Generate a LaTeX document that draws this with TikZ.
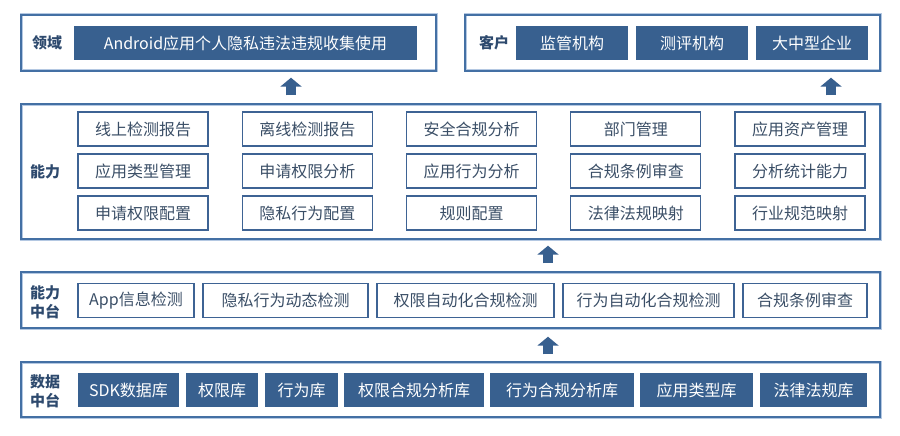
\documentclass[tikz,border=0pt]{standalone}
\usepackage{fontspec}
\setmainfont{Noto Sans CJK SC}
\usetikzlibrary{arrows.meta}

\definecolor{darkfill}{HTML}{38608F}
\definecolor{frameline}{HTML}{4470A4}
\definecolor{framehalo}{HTML}{B4C8E2}
\definecolor{boxline}{HTML}{3E6394}
\definecolor{labeltext}{HTML}{2E4A6E}
\definecolor{boxtext}{HTML}{3A4E66}

\tikzset{
  frame/.style={draw=frameline,line width=1.4pt,minimum width=859pt,
    preaction={draw=framehalo,line width=3pt}},
  layerlabel/.style={font=\fontsize{15}{19}\selectfont\bfseries,text=labeltext,align=center},
  darkbox/.style={fill=darkfill,text=white,minimum height=34pt,inner sep=0pt,
    font=\fontsize{16}{18}\selectfont},
  linebox/.style={draw=boxline,line width=1.1pt,text=boxtext,minimum height=34pt,inner sep=0pt,
    font=\fontsize{16}{18}\selectfont},
  uparrow/.style={line width=10pt,darkfill,-{Triangle[width=21pt,length=9pt]}}
}

\begin{document}
\begin{tikzpicture}[x=1pt,y=-1pt]
  \useasboundingbox (0,0) rectangle (900,436);

  % Domain
  \node[frame,minimum width=415pt,minimum height=56pt] (domain) at (228.5,43) {};
  \node[layerlabel] (domainlbl) at (47,43) {领域};
  \node[darkbox,minimum width=343pt] (android) at (245.5,43) {Android应用个人隐私违法违规收集使用};

  % Customers
  \node[frame,minimum width=415pt,minimum height=56pt] (customer) at (672.5,43) {};
  \node[layerlabel] (customerlbl) at (494,43) {客户};
  \node[darkbox,minimum width=112pt] (regulator) at (572,43) {监管机构};
  \node[darkbox,minimum width=112pt] (tester) at (692,43) {测评机构};
  \node[darkbox,minimum width=112pt] (enterprise) at (812,43) {大中型企业};

  % Capabilities
  \node[frame,minimum height=135pt] (cap) at (450.5,171.5) {};
  \node[layerlabel] (caplbl) at (45,172) {能力};
  \foreach \txt [count=\i from 0] in {线上检测报告,离线检测报告,安全合规分析,部门管理,应用资产管理}
    \node[linebox,minimum width=130pt] (capa\i) at (143+164.25*\i,129) {\txt};
  \foreach \txt [count=\i from 0] in {应用类型管理,申请权限分析,应用行为分析,合规条例审查,分析统计能力}
    \node[linebox,minimum width=130pt] (capb\i) at (143+164.25*\i,171) {\txt};
  \foreach \txt [count=\i from 0] in {申请权限配置,隐私行为配置,规则配置,法律法规映射,行业规范映射}
    \node[linebox,minimum width=130pt] (capc\i) at (143+164.25*\i,213) {\txt};

  % Capability middle platform
  \node[frame,minimum height=56pt] (mid) at (450.5,300) {};
  \node[layerlabel] (midlbl) at (45,302) {能力\\中台};
  \node[linebox,minimum width=116pt] (appinfo) at (136,300.5) {App信息检测};
  \node[linebox,minimum width=165pt] (dynamic) at (285.5,300.5) {隐私行为动态检测};
  \node[linebox,minimum width=177pt] (permauto) at (465.5,300.5) {权限自动化合规检测};
  \node[linebox,minimum width=171pt] (behavauto) at (648.5,300.5) {行为自动化合规检测};
  \node[linebox,minimum width=124pt] (review) at (805,300.5) {合规条例审查};

  % Data middle platform
  \node[frame,minimum height=55pt] (data) at (450.5,389.5) {};
  \node[layerlabel] (datalbl) at (45,391) {数据\\中台};
  \node[darkbox,minimum width=101pt] (sdkdb) at (128.5,390) {SDK数据库};
  \node[darkbox,minimum width=72pt] (permdb) at (222,390) {权限库};
  \node[darkbox,minimum width=73pt] (behavdb) at (301.5,390) {行为库};
  \node[darkbox,minimum width=140pt] (permcomp) at (414,390) {权限合规分析库};
  \node[darkbox,minimum width=144pt] (behavcomp) at (562,390) {行为合规分析库};
  \node[darkbox,minimum width=113pt] (typedb) at (696.5,390) {应用类型库};
  \node[darkbox,minimum width=107pt] (lawdb) at (813.5,390) {法律法规库};

  % Layer arrows
  \draw[uparrow,shorten <=8pt,shorten >=6pt] ([xshift=-159.5pt]cap.north) -- ([xshift=62.5pt]domain.south);
  \draw[uparrow,shorten <=8pt,shorten >=6pt] ([xshift=380.5pt]cap.north) -- ([xshift=158.5pt]customer.south);
  \draw[uparrow,shorten <=8pt,shorten >=6pt] ([xshift=97.5pt]mid.north) -- ([xshift=97.5pt]cap.south);
  \draw[uparrow,shorten <=7pt,shorten >=8pt] ([xshift=97.5pt]data.north) -- ([xshift=97.5pt]mid.south);
\end{tikzpicture}
\end{document}
